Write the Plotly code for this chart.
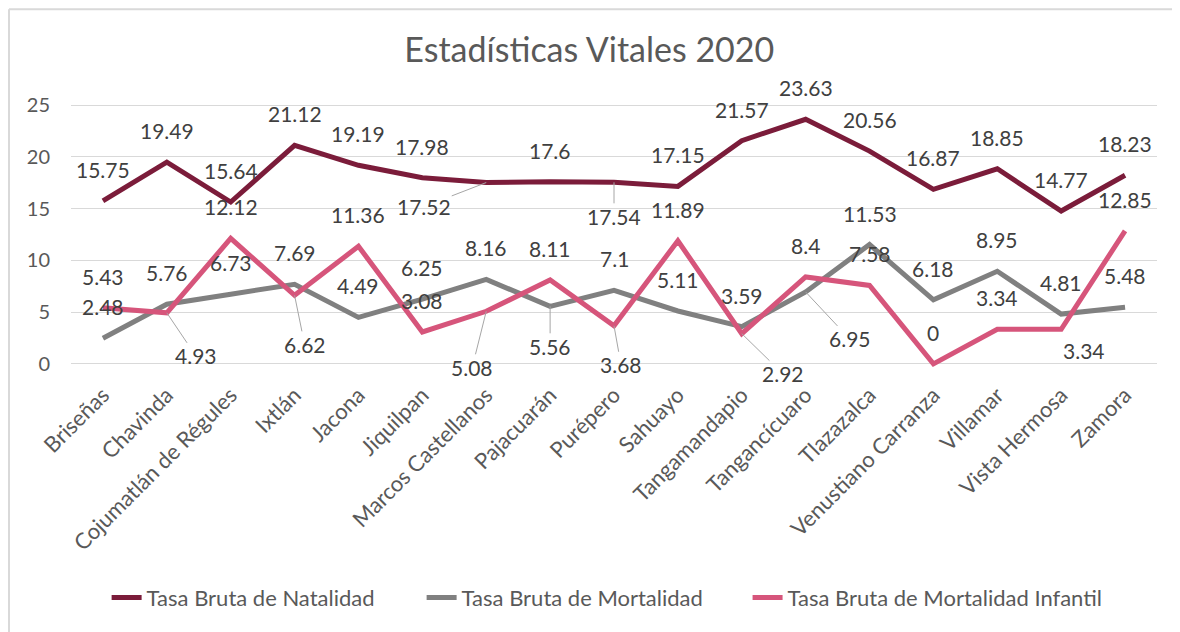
import plotly.graph_objects as go

# ---------------- data ----------------
municipios = ["Briseñas", "Chavinda", "Cojumatlán de Régules", "Ixtlán", "Jacona",
              "Jiquilpan", "Marcos Castellanos", "Pajacuarán", "Purépero", "Sahuayo",
              "Tangamandapio", "Tangancícuaro", "Tlazazalca", "Venustiano Carranza",
              "Villamar", "Vista Hermosa", "Zamora"]
natalidad = [15.75, 19.49, 15.64, 21.12, 19.19, 17.98, 17.52, 17.6, 17.54, 17.15,
             21.57, 23.63, 20.56, 16.87, 18.85, 14.77, 18.23]
mortalidad = [2.48, 5.76, 6.73, 7.69, 4.49, 6.25, 8.16, 5.56, 7.1, 5.11,
              3.59, 6.95, 11.53, 6.18, 8.95, 4.81, 5.48]
mort_infantil = [5.43, 4.93, 12.12, 6.62, 11.36, 3.08, 5.08, 8.11, 3.68, 11.89,
                 2.92, 8.4, 7.58, 0, 3.34, 3.34, 12.85]
y_ticks = [0, 5, 10, 15, 20, 25]
titulo = "Estadísticas Vitales 2020"
nombres = ["Tasa Bruta de Natalidad", "Tasa Bruta de Mortalidad",
           "Tasa Bruta de Mortalidad Infantil"]

# ---------------- style ----------------
colors = ["#7B1C3A", "#808080", "#D6557B"]
legend_ids = ["legend", "legend", "legend2"]
FONT = "Lato"
LABEL_COLOR = "#404040"
AXIS_COLOR = "#595959"
GRID = "#D9D9D9"
LEADER = "#A6A6A6"

# label offsets in screen pixels (dx right, dy down); default above point
DEFAULT_OFF = (0, -31.5)
special_offsets = [
    {6: (-62, 24, True), 8: (0, 34, True)},                      # natalidad
    {7: (0, 40, True), 11: (44, 47, True)},                      # mortalidad
    {1: (29, 43, True), 3: (10, 49, True), 6: (-14, 56, True),   # infantil
     8: (7, 39, True), 10: (41, 40, True), 15: (23, 21, False)},
]

series = [natalidad, mortalidad, mort_infantil]

fig = go.Figure()
annotations = []
for s, (vals, name, col) in enumerate(zip(series, nombres, colors)):
    fig.add_trace(go.Scatter(
        x=municipios, y=vals, mode="lines", name=name, legend=legend_ids[s],
        line=dict(color=col, width=5), hoverinfo="x+y"))
    for i, v in enumerate(vals):
        dx, dy, leader = special_offsets[s].get(i, (*DEFAULT_OFF, False))
        annotations.append(dict(
            x=municipios[i], y=v, xref="x", yref="y",
            text=f"{v:g}", showarrow=True, ax=dx, ay=dy,
            xanchor="center", yanchor="middle",
            arrowhead=0, arrowwidth=1, standoff=0, startstandoff=0,
            arrowcolor=LEADER if leader else "rgba(0,0,0,0)",
            font=dict(family=FONT, size=21, color=LABEL_COLOR),
            borderpad=0))

# chart-area border (top and left edges visible)
shapes = [
    dict(type="line", xref="paper", yref="paper", x0=-0.0571, x1=1.03,
         y0=1.3439, y1=1.3439, line=dict(color=GRID, width=2)),
    dict(type="line", xref="paper", yref="paper", x0=-0.0571, x1=-0.0571,
         y0=1.3439, y1=-1.0, line=dict(color=GRID, width=2)),
]

legend_font = dict(family=FONT, size=22, color=AXIS_COLOR)

fig.update_layout(
    width=1172, height=624,
    margin=dict(l=63, r=23, t=93, b=264),
    paper_bgcolor="white", plot_bgcolor="white",
    font=dict(family=FONT, color=AXIS_COLOR),
    title=dict(text=titulo, x=0.496, xanchor="center", y=0.933, yanchor="middle",
               font=dict(family=FONT, size=34, color=AXIS_COLOR)),
    xaxis=dict(type="category", range=[-0.5, len(municipios) - 0.5],
               showgrid=False, zeroline=False, showline=False, ticks="",
               tickangle=-45, ticklabelstandoff=9,
               tickfont=dict(family=FONT, size=22, color=AXIS_COLOR)),
    yaxis=dict(range=[-0.4, 25.4], tickvals=y_ticks, showgrid=True, gridcolor=GRID,
               gridwidth=1, zeroline=False, showline=False, ticks="",
               ticklabelstandoff=20,
               tickfont=dict(family=FONT, size=20, color=AXIS_COLOR)),
    legend=dict(orientation="h", x=0.0328, xanchor="left", y=-0.86, yanchor="middle",
                font=legend_font, entrywidth=270, entrywidthmode="pixels",
                traceorder="normal"),
    legend2=dict(orientation="h", x=0.623, xanchor="left", y=-0.86, yanchor="middle",
                 font=legend_font),
    annotations=annotations,
    shapes=shapes,
    showlegend=True,
)

fig.write_html("out.html")
